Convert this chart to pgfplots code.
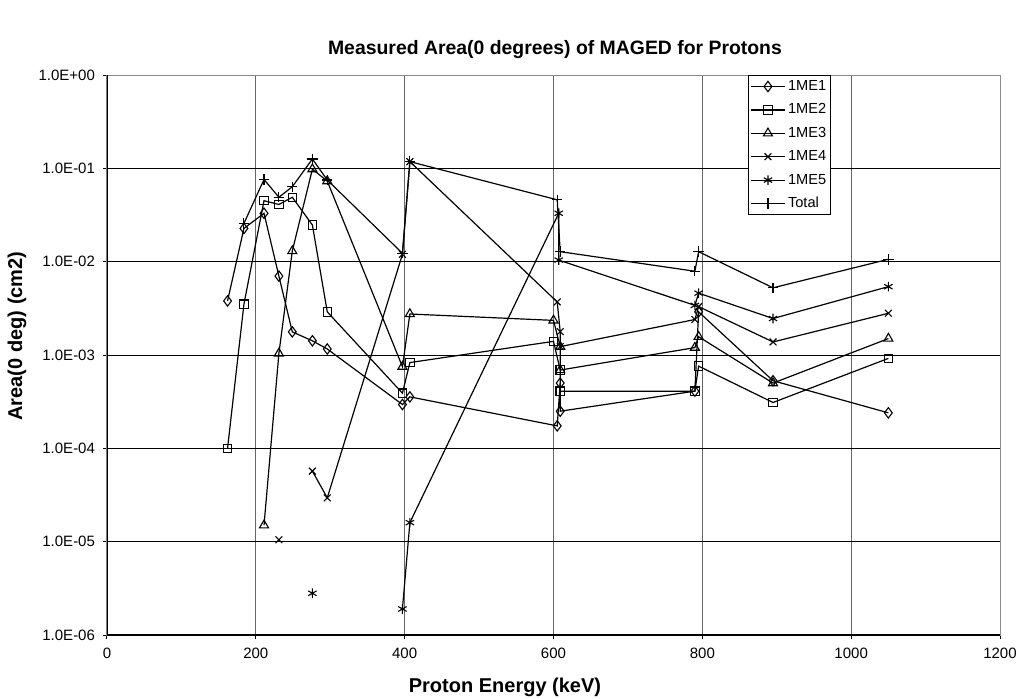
\documentclass[border=0pt]{standalone}
\usepackage{fontspec}
\setmainfont{Liberation Sans}
\usepackage{pgfplots}
\pgfplotsset{compat=1.18}

% Measured areas (cm^2) per detector head, proton energy in keV; nan breaks a line
\pgfplotstableread{
x     y
162   3.8e-3
184   2.27e-2
211   3.3e-2
231   7.0e-3
249   1.77e-3
276   1.42e-3
296   1.16e-3
397   2.95e-4
407   3.56e-4
605   1.74e-4
609   5.0e-4
609   2.5e-4
790   4.1e-4
795   2.9e-3
895   5.3e-4
1050  2.4e-4
}\meA
\pgfplotstableread{
x     y
162   1.0e-4
184   3.5e-3
211   4.5e-2
231   4.1e-2
249   4.9e-2
276   2.47e-2
296   2.9e-3
397   3.9e-4
407   8.3e-4
600   1.4e-3
609   6.9e-4
609   4.1e-4
790   4.1e-4
795   7.6e-4
895   3.1e-4
1050  9.2e-4
}\meB
\pgfplotstableread{
x     y
211   1.5e-5
231   1.04e-3
249   1.3e-2
276   9.8e-2
296   7.3e-2
397   7.5e-4
407   2.75e-3
600   2.35e-3
609   1.23e-3
609   6.9e-4
790   1.2e-3
795   1.57e-3
895   5.0e-4
1050  1.5e-3
}\meC
\pgfplotstableread{
x     y
231   1.05e-5
249   nan
276   5.7e-5
296   2.95e-5
397   1.2e-2
407   1.18e-1
605   3.7e-3
609   1.78e-3
609   1.23e-3
790   2.4e-3
795   3.3e-3
895   1.38e-3
1050  2.8e-3
}\meD
\pgfplotstableread{
x     y
276   2.8e-6
296   nan
397   1.9e-6
407   1.6e-5
607   3.3e-2
607   1.04e-2
790   3.4e-3
795   4.6e-3
895   2.46e-3
1050  5.4e-3
}\meE
\pgfplotstableread{
x     y
184   2.57e-2
211   7.6e-2
231   4.9e-2
249   6.35e-2
276   1.26e-1
296   7.5e-2
397   1.23e-2
407   1.18e-1
605   4.6e-2
609   1.28e-2
790   7.9e-3
795   1.28e-2
895   5.25e-3
1050  1.06e-2
}\total

\begin{document}
\begin{tikzpicture}[x=1pt,y=1pt]
\useasboundingbox (0,0) rectangle (509.5,349);
\begin{axis}[
  at={(53.5pt,31.5pt)}, anchor=south west,
  width=446.5pt, height=280pt, scale only axis,
  xmin=0, xmax=1200, ymin=1e-6, ymax=1,
  ymode=log, yminorticks=false,
  unbounded coords=jump,
  xtick={0,200,...,1200},
  xticklabels={0,200,400,600,800,1000,1200},
  ytick={1e-6,1e-5,1e-4,1e-3,1e-2,1e-1,1},
  yticklabels={1.0E-06,1.0E-05,1.0E-04,1.0E-03,1.0E-02,1.0E-01,1.0E+00},
  tick align=outside, major tick length=2pt,
  tick style={black, line width=0.5pt},
  xtick pos=bottom, ytick pos=left,
  ticklabel style={font=\fontsize{7.5}{8}\selectfont},
  xticklabel style={yshift=-1pt},
  yticklabel style={xshift=-0.5pt},
  axis line style={black!45, line width=0.5pt},
  xmajorgrids, ymajorgrids,
  x grid style={black!60, line width=0.5pt},
  y grid style={black, line width=0.5pt},
  every axis plot/.append style={black, line width=0.6pt, mark options={solid, fill=white, line width=0.55pt}},
  legend style={at={(0.718,1)}, anchor=north west, draw=black, line width=0.5pt,
    fill=white, font=\fontsize{7.3}{8}\selectfont, row sep=2.3pt, inner sep=0.8pt,
    nodes={inner sep=1.2pt, text height=5.5pt, text depth=1.5pt}},
  legend cell align=left,
]
\addplot[mark=diamond, mark size=2.6pt] table {\meA};
\addlegendentry{1ME1}
\addplot[mark=square, mark size=2.1pt] table {\meB};
\addlegendentry{1ME2}
\addplot[mark=triangle, mark size=2.6pt] table {\meC};
\addlegendentry{1ME3}
\addplot[mark=x, mark size=2.4pt] table {\meD};
\addlegendentry{1ME4}
\addplot[mark=asterisk, mark size=2.4pt] table {\meE};
\addlegendentry{1ME5}
\addplot[mark=+, mark size=2.6pt] table {\total};
\addlegendentry{Total}
\draw[black, line width=0.6pt] (rel axis cs:0,1) -- (rel axis cs:0,0) -- (rel axis cs:1,0);
\end{axis}
\node[font=\fontsize{9.7}{12}\selectfont\bfseries] at (277.5,324) {Measured Area(0 degrees) of MAGED for Protons};
\node[font=\fontsize{10}{12}\selectfont\bfseries] at (252.5,5.5) {Proton Energy (keV)};
\node[font=\fontsize{10}{12}\selectfont\bfseries, rotate=90] at (8.5,181) {Area(0 deg) (cm2)};
\end{tikzpicture}
\end{document}
